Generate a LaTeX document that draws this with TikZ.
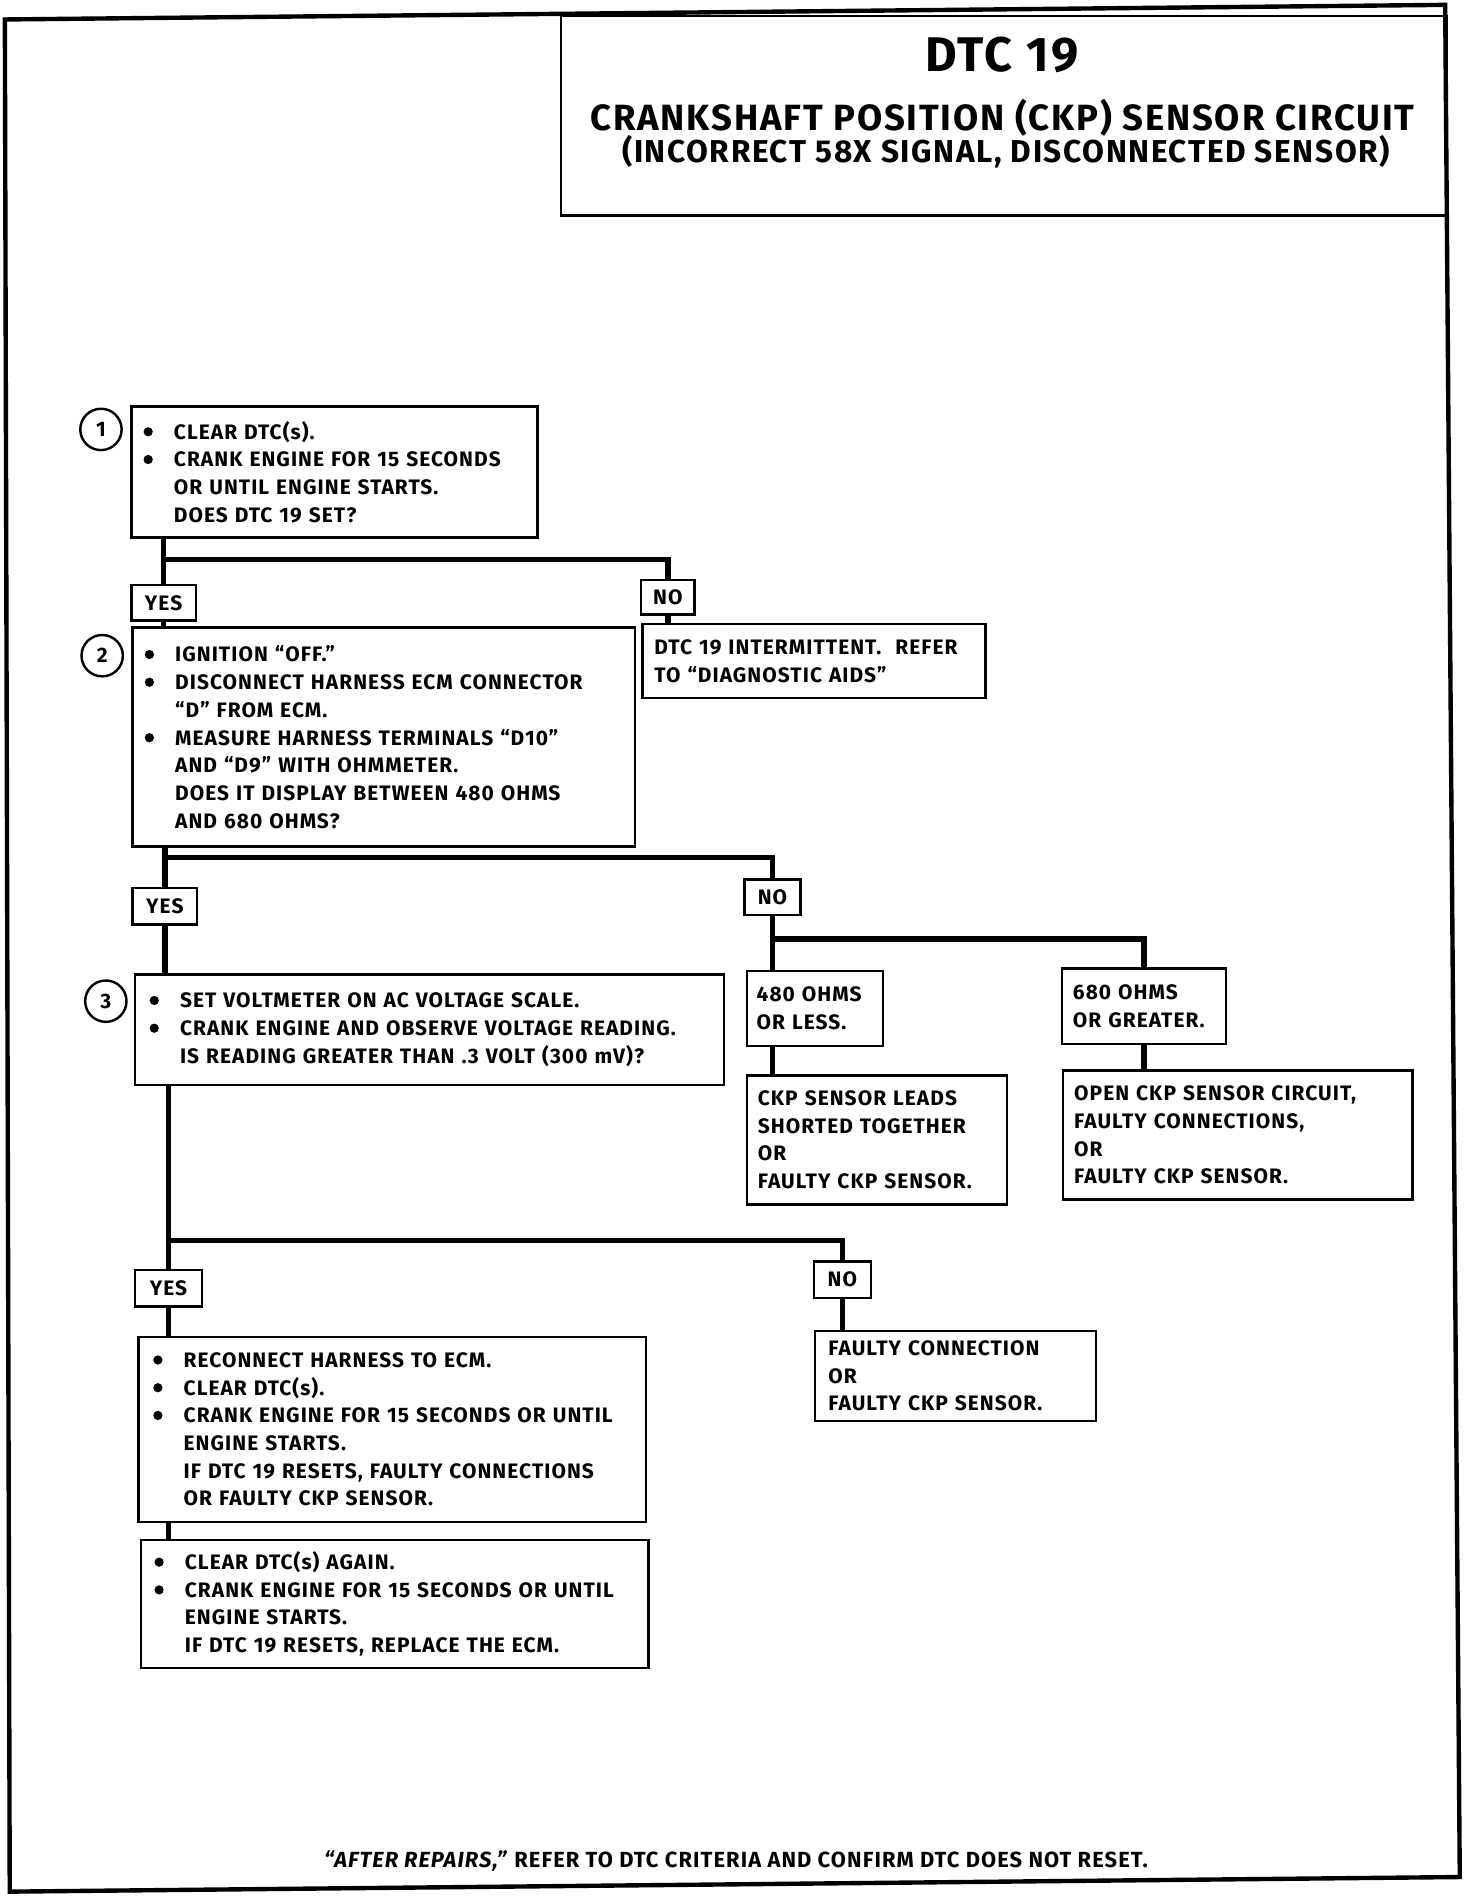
\documentclass[tikz,border=0pt]{standalone}
\usepackage{fontspec}
\setmainfont{Fira Sans}[LetterSpace=5]
\usetikzlibrary{positioning,calc}

\newcommand{\itm}{\makebox[12.5pt][l]{\tikz[baseline=0pt]\fill (1.9pt,3pt) circle (1.9pt);}}
\newcommand{\ind}{\hspace*{12.5pt}}

\tikzset{
  stepbox/.style={draw, line width=1pt, anchor=north west, align=left,
    inner xsep=5pt, inner ysep=0pt,
    font=\fontsize{8.6}{11.4}\selectfont\bfseries},
  ans/.style={draw, line width=1pt, fill=white, inner sep=0pt,
    font=\fontsize{8.6}{10}\selectfont\bfseries},
  num/.style={draw, circle, line width=1pt, minimum size=17pt, inner sep=0pt,
    font=\fontsize{8.6}{10}\selectfont\bfseries},
  link/.style={line width=2.2pt},
}

\begin{document}
\begin{tikzpicture}[x=0.5pt,y=-0.5pt]
    \useasboundingbox (0,0) rectangle (1210,1558.6);
    % page frame and heading
    \draw[line width=1.8pt] (4,16) -- (1188,4) -- (1200,1543) -- (8,1555) -- cycle;
    \node[draw, line width=1pt, anchor=north west, minimum width=364pt,
      minimum height=82pt, inner sep=0pt] (head) at (460,12) {};
    \node[font=\fontsize{20}{22}\selectfont\bfseries] (dtc) at (824,45) {DTC 19};
    \node[font=\fontsize{15}{17}\selectfont\bfseries] (circuit) at (824,97) {CRANKSHAFT POSITION (CKP) SENSOR CIRCUIT};
    \node[font=\fontsize{13}{15}\selectfont\bfseries] (cause) at (827,125) {(INCORRECT 58X SIGNAL, DISCONNECTED SENSOR)};

    % step 1
    \node[num] (n1) at (83,353) {1};
    \node[stepbox, text width=157pt, minimum height=54pt] (s1) at (107,333)
      {\itm CLEAR DTC(s).\\ \itm CRANK ENGINE FOR 15 SECONDS\\ \ind OR UNTIL ENGINE STARTS.\\ \ind DOES DTC 19 SET?};
    \node[ans, minimum width=26.5pt, minimum height=14.5pt] (yes1) at (134.5,495.5) {YES};
    \node[ans, minimum width=22pt, minimum height=14pt] (no1) at (549,491) {NO};
    \node[stepbox, text width=131pt, minimum height=30.5pt] (inter) at (527,512)
      {DTC 19 INTERMITTENT.\ \ REFER\\ TO “DIAGNOSTIC AIDS”};
    \coordinate (j1) at (134.5,460);
    \draw[link] (s1.south -| j1) -- (yes1.north);
    \draw[link] (j1) -| (no1.north);
    \draw[link] (no1.south) -- (no1.south |- inter.north);

    % step 2
    \node[num] (n2) at (84,539) {2};
    \node[stepbox, text width=196.5pt, minimum height=90pt] (s2) at (108,515)
      {\itm IGNITION “OFF.”\\ \itm DISCONNECT HARNESS ECM CONNECTOR\\ \ind “D” FROM ECM.\\
       \itm MEASURE HARNESS TERMINALS “D10”\\ \ind AND “D9” WITH OHMMETER.\\
       \ind DOES IT DISPLAY BETWEEN 480 OHMS\\ \ind AND 680 OHMS?};
    \draw[link] (yes1.south) -- (yes1.south |- s2.north);
    \node[ans, minimum width=26.5pt, minimum height=15pt] (yes2) at (135.5,745) {YES};
    \node[ans, minimum width=23pt, minimum height=14.5pt] (no2) at (635,737.5) {NO};
    \coordinate (j2) at (135.5,705);
    \draw[link] (s2.south -| j2) -- (yes2.north);
    \draw[link] (j2) -| (no2.north);

    % resistance out of range
    \node[stepbox, inner xsep=4pt, text width=48pt, minimum height=31pt] (less) at (613,797)
      {480 OHMS\\ OR LESS.};
    \node[stepbox, inner xsep=4.5pt, text width=58.5pt, minimum height=31pt] (greater) at (872,795)
      {680 OHMS\\ OR GREATER.};
    \node[stepbox, inner xsep=4.5pt, text width=98pt, minimum height=53pt] (leads) at (613,883)
      {CKP SENSOR LEADS\\ SHORTED TOGETHER\\ OR\\ FAULTY CKP SENSOR.};
    \node[stepbox, inner xsep=4.5pt, text width=134.5pt, minimum height=53pt] (open) at (873,879)
      {OPEN CKP SENSOR CIRCUIT,\\ FAULTY CONNECTIONS,\\ OR\\ FAULTY CKP SENSOR.};
    \coordinate (j3) at (635,772);
    \draw[link] (no2.south) -- (no2.south |- less.north);
    \draw[link] (j3) -| (greater.north);
    \draw[link] (less.south -| j3) -- (leads.north -| j3);
    \draw[link] (greater.south) -- (greater.south |- open.north);

    % step 3
    \node[num] (n3) at (87,823) {3};
    \node[stepbox, inner xsep=6pt, text width=230pt, minimum height=45.5pt] (s3) at (110,800)
      {\itm SET VOLTMETER ON AC VOLTAGE SCALE.\\ \itm CRANK ENGINE AND OBSERVE VOLTAGE READING.\\
       \ind IS READING GREATER THAN .3 VOLT (300 mV)?};
    \draw[link] (yes2.south) -- (yes2.south |- s3.north);
    \node[ans, minimum width=27.5pt, minimum height=15pt] (yes3) at (138.5,1059) {YES};
    \node[ans, minimum width=23.5pt, minimum height=15pt] (no3) at (692.5,1052) {NO};
    \coordinate (j4) at (138.5,1020);
    \draw[link] (s3.south -| j4) -- (yes3.north);
    \draw[link] (j4) -| (no3.north);
    \node[stepbox, inner xsep=5.5pt, text width=104.5pt, minimum height=37pt] (fault) at (669,1093)
      {FAULTY CONNECTION\\ OR\\ FAULTY CKP SENSOR.};
    \draw[link] (no3.south) -- (no3.south |- fault.north);

    % steps after a good signal
    \node[stepbox, inner xsep=6pt, text width=196.5pt, minimum height=76pt] (s4) at (113,1098)
      {\itm RECONNECT HARNESS TO ECM.\\ \itm CLEAR DTC(s).\\ \itm CRANK ENGINE FOR 15 SECONDS OR UNTIL\\
       \ind ENGINE STARTS.\\ \ind IF DTC 19 RESETS, FAULTY CONNECTIONS\\ \ind OR FAULTY CKP SENSOR.};
    \draw[link] (yes3.south) -- (yes3.south |- s4.north);
    \node[stepbox, inner xsep=5.5pt, text width=197.5pt, minimum height=52.5pt] (s5) at (115,1265)
      {\itm CLEAR DTC(s) AGAIN.\\ \itm CRANK ENGINE FOR 15 SECONDS OR UNTIL\\
       \ind ENGINE STARTS.\\ \ind IF DTC 19 RESETS, REPLACE THE ECM.};
    \draw[link] (s4.south -| j4) -- (s5.north -| j4);

    \node[font=\fontsize{9}{10}\selectfont\bfseries] (after) at (605,1530)
      {\textit{“AFTER REPAIRS,”} REFER TO DTC CRITERIA AND CONFIRM DTC DOES NOT RESET.};
\end{tikzpicture}
\end{document}
